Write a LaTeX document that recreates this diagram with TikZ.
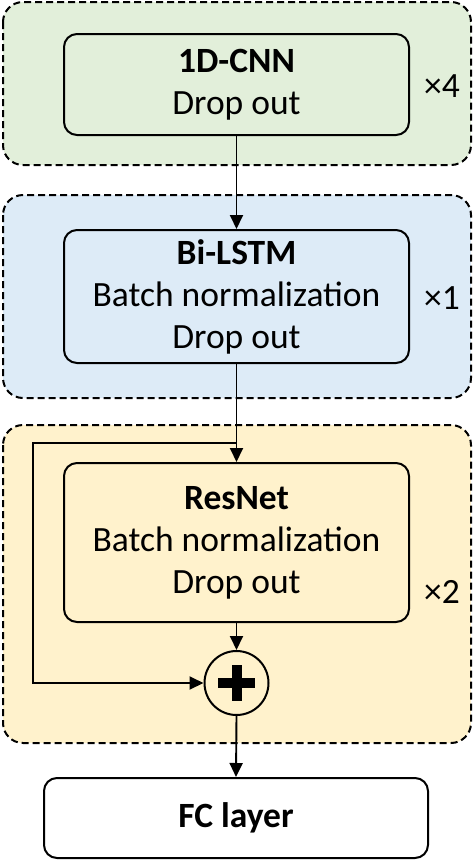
\documentclass[tikz,border=0pt]{standalone}
\usepackage{fontspec}
\setmainfont{Carlito}
\usetikzlibrary{arrows.meta}
\definecolor{gfill}{HTML}{E2EFDA}
\definecolor{bfill}{HTML}{DDEBF7}
\definecolor{yfill}{HTML}{FFF2CC}
\tikzset{
  outerbox/.style={draw=black, line width=2pt, dash pattern=on 7pt off 4pt, rounded corners=20pt},
  innerbox/.style={draw=black, line width=2pt, rounded corners=13pt, align=center, inner sep=0pt,
    font=\fontsize{35.5}{42}\selectfont},
  reptext/.style={font=\fontsize{35.5}{42}\selectfont, inner sep=0pt},
  conn/.style={line width=1.9pt, draw=black},
  arr/.style={conn, -{Triangle[length=14pt,width=13pt]}},
}
\begin{document}
\begin{tikzpicture}[x=1pt,y=-1pt]
\useasboundingbox (0,0) rectangle (474,860);
% outer groups
\draw[outerbox, fill=gfill] (3,2) rectangle (471,165);
\draw[outerbox, fill=bfill] (3,195) rectangle (471,398);
\draw[outerbox, fill=yfill] (3,425) rectangle (471,743);
% inner boxes
\node[innerbox, fill=gfill, minimum width=345pt, minimum height=101pt] (cnn) at (236.5,84.5)
  {\textbf{1D-CNN}\\Drop out};
\node[innerbox, fill=bfill, minimum width=345pt, minimum height=133pt] (lstm) at (236.5,296.5)
  {\textbf{Bi-LSTM}\\Batch normalization\\Drop out};
\node[innerbox, fill=yfill, minimum width=345pt, minimum height=159pt] (res) at (236.5,542.5)
  {\textbf{ResNet}\\Batch normalization\\Drop out};
\node[innerbox, fill=white, minimum width=384pt, minimum height=80pt] (fc) at (236,818)
  {\textbf{FC layer}};
% repeat labels
\node[reptext] (r4) at (442,86) {×4};
\node[reptext] (r1) at (442,298) {×1};
\node[reptext] (r2) at (442,592) {×2};
% plus node
\node[circle, draw=black, line width=2pt, fill=yfill, minimum size=64pt, inner sep=0pt] (plus) at (236.5,683) {};
\fill[black] ([shift={(-18.5,-5)}]plus.center) rectangle ([shift={(18.5,5)}]plus.center);
\fill[black] ([shift={(-5,-18)}]plus.center) rectangle ([shift={(5,18)}]plus.center);
% connectors
\coordinate (split) at (236.5,443);
\coordinate (leftc) at (33,443);
\draw[arr] (cnn.south) -- (lstm.north);
\draw[conn] (lstm.south) -- (split);
\draw[arr] (split) -- (res.north);
\draw[arr] (split) -- (leftc) |- (plus.west);
\draw[arr] (res.south) -- (plus.north);
\draw[arr] (plus.south) -- (fc.north);
\end{tikzpicture}
\end{document}
